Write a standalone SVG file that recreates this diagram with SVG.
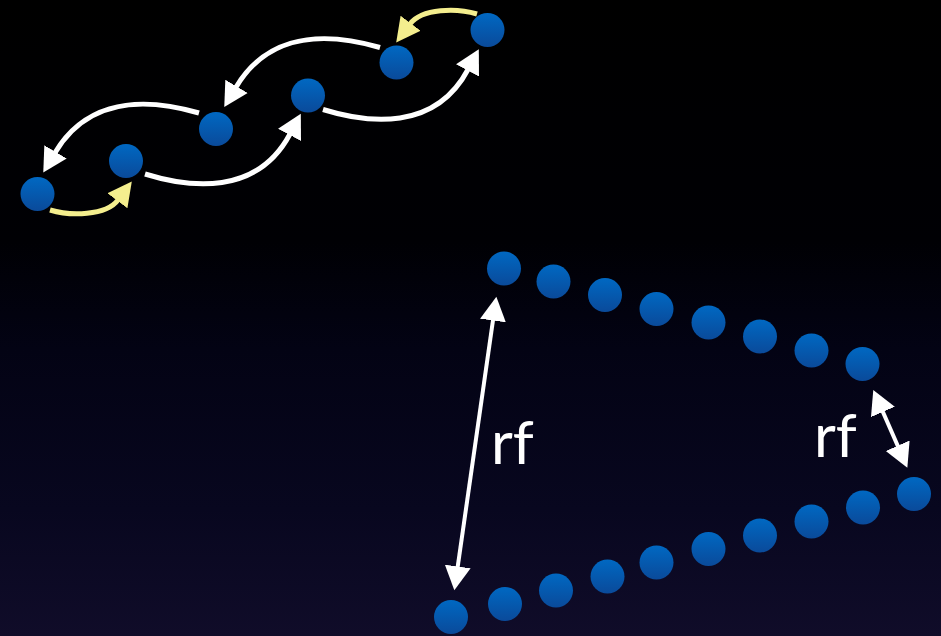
<svg xmlns="http://www.w3.org/2000/svg" width="941" height="636" viewBox="0 0 941 636">
<defs>
<linearGradient id="bg" x1="0" y1="0" x2="0" y2="1">
<stop offset="0" stop-color="#000000"/>
<stop offset="0.38" stop-color="#000004"/>
<stop offset="0.55" stop-color="#030314"/>
<stop offset="0.8" stop-color="#08071f"/>
<stop offset="1" stop-color="#100c29"/>
</linearGradient>
<linearGradient id="dot" x1="0" y1="0" x2="0" y2="1">
<stop offset="0" stop-color="#0068c2"/>
<stop offset="1" stop-color="#0a4a9a"/>
</linearGradient>
<marker id="aw" viewBox="0 -14 26 28" refX="1" refY="0" markerWidth="26" markerHeight="28" markerUnits="userSpaceOnUse" orient="auto-start-reverse">
<path d="M0,-13 L24,0 L0,13 z" fill="#ffffff"/>
</marker>
<marker id="ay" viewBox="0 -14 26 28" refX="1" refY="0" markerWidth="26" markerHeight="28" markerUnits="userSpaceOnUse" orient="auto">
<path d="M0,-12.5 L24,0 L0,12.5 z" fill="#f4ee8e"/>
</marker>
<style>
.n{fill:url(#dot)}
.w{fill:none;stroke:#ffffff;stroke-width:5;marker-end:url(#aw)}
.y{fill:none;stroke:#f4ee8e;stroke-width:5;marker-end:url(#ay)}
.d{fill:none;stroke:#ffffff;stroke-width:4;marker-start:url(#aw);marker-end:url(#aw)}
.t{font-family:Lato,"Open Sans","Liberation Sans",sans-serif;font-size:60px;fill:#ffffff}
</style>
</defs>
<rect width="941" height="636" fill="url(#bg)"/>
<g id="connectors">
<path class="y" d="M50,210 C70,216 106,216 118,200"/>
<path class="w" d="M145,174 C190,188 257,196 290,134"/>
<path class="w" d="M323,109.5 C368,123.5 435,131.5 468,69.5"/>
<path class="y" d="M477,14 C457,8 422,8 410,24"/>
<path class="w" d="M380,47.5 C308,26.5 261.5,44.2 236,87.2"/>
<path class="w" d="M199,113 C127,92 80.5,109.7 55,152.7"/>
<path class="d" d="M493.1,319.5 L457.6,567.5"/>
<path class="d" d="M882.5,411 L898.1,446.6"/>
</g>
<g id="chain">
<g id="c1"><circle class="n" cx="37.5" cy="194" r="17"/></g>
<g id="c2"><circle class="n" cx="126" cy="161" r="17"/></g>
<g id="c3"><circle class="n" cx="216" cy="129" r="17"/></g>
<g id="c4"><circle class="n" cx="308" cy="95.5" r="17"/></g>
<g id="c5"><circle class="n" cx="396.5" cy="62.5" r="17"/></g>
<g id="c6"><circle class="n" cx="487.5" cy="30" r="17"/></g>
</g>
<g id="top-row">
<g id="t1"><circle class="n" cx="504" cy="268.5" r="17"/></g>
<g id="t2"><circle class="n" cx="553.5" cy="281.5" r="17"/></g>
<g id="t3"><circle class="n" cx="605" cy="295" r="17"/></g>
<g id="t4"><circle class="n" cx="656.5" cy="309" r="17"/></g>
<g id="t5"><circle class="n" cx="708.5" cy="322.5" r="17"/></g>
<g id="t6"><circle class="n" cx="760" cy="336.5" r="17"/></g>
<g id="t7"><circle class="n" cx="811.5" cy="350.5" r="17"/></g>
<g id="t8"><circle class="n" cx="862.5" cy="364" r="17"/></g>
</g>
<g id="bottom-row">
<g id="b1"><circle class="n" cx="451" cy="617" r="17"/></g>
<g id="b2"><circle class="n" cx="505" cy="604" r="17"/></g>
<g id="b3"><circle class="n" cx="556" cy="590.5" r="17"/></g>
<g id="b4"><circle class="n" cx="607.5" cy="576.5" r="17"/></g>
<g id="b5"><circle class="n" cx="656.5" cy="562.5" r="17"/></g>
<g id="b6"><circle class="n" cx="708.5" cy="549" r="17"/></g>
<g id="b7"><circle class="n" cx="760" cy="535.5" r="17"/></g>
<g id="b8"><circle class="n" cx="811.5" cy="521.5" r="17"/></g>
<g id="b9"><circle class="n" cx="863" cy="507.5" r="17"/></g>
<g id="b10"><circle class="n" cx="914" cy="494" r="17"/></g>
</g>
<g id="labels">
<text class="t" x="491" y="464">rf</text>
<text class="t" x="814" y="457">rf</text>
</g>
</svg>
